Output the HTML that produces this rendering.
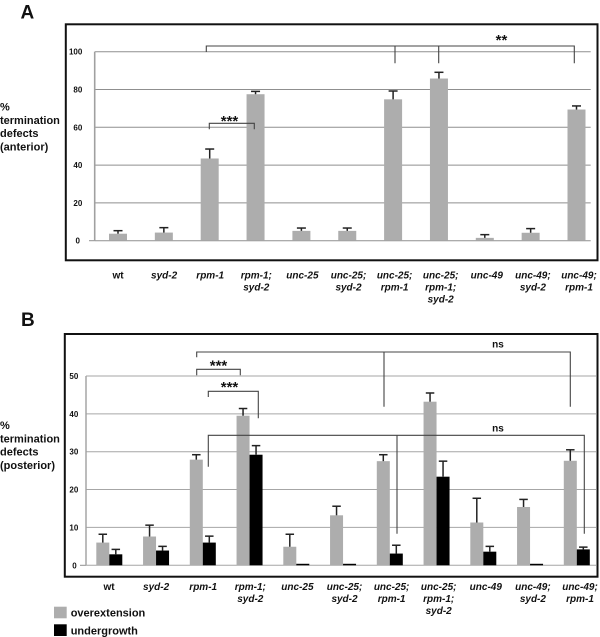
<!DOCTYPE html>
<html>
<head>
<meta charset="utf-8">
<title>Termination defects</title>
<style>
html,body{margin:0;padding:0;background:#fff;}
svg{display:block;font-family:"Liberation Sans",sans-serif;filter:blur(0.35px);}
text{fill:#111;}
</style>
</head>
<body>
<svg id="fig" width="600" height="637" viewBox="0 0 600 637" xmlns="http://www.w3.org/2000/svg"></svg>
<script>
const categories = [
  ["wt"], ["syd-2"], ["rpm-1"], ["rpm-1;", "syd-2"], ["unc-25"], ["unc-25;", "syd-2"],
  ["unc-25;", "rpm-1"], ["unc-25;", "rpm-1;", "syd-2"], ["unc-49"], ["unc-49;", "syd-2"], ["unc-49;", "rpm-1"]
];
const anteriorValues = [3.7, 4.3, 43.5, 77.5, 5.2, 5.2, 74.8, 85.8, 1.5, 4.2, 69.4];
const anteriorErrorTops = [5.3, 6.9, 48.5, 79, 6.7, 6.7, 79.2, 89.1, 3.2, 6.4, 71.3];
const anteriorTicks = [0, 20, 40, 60, 80, 100];
const overextensionValues = [6, 7.6, 27.9, 39.5, 4.9, 13.2, 27.5, 43.2, 11.3, 15.4, 27.6];
const overextensionErrorTops = [8.2, 10.6, 29.2, 41.4, 8.2, 15.6, 29.2, 45.5, 17.7, 17.4, 30.5];
const undergrowthValues = [2.9, 3.9, 6, 29.2, 0.4, 0.4, 3.1, 23.4, 3.6, 0.4, 4.2];
const undergrowthErrorTops = [4.2, 5, 7.7, 31.6, null, null, 5.3, 27.5, 5, null, 4.8];
const posteriorTicks = [0, 10, 20, 30, 40, 50];

const svg = document.getElementById('fig');
const NS = 'http://www.w3.org/2000/svg';

function make(tag, attrs, text) {
  const el = document.createElementNS(NS, tag);
  for (const k in attrs) el.setAttribute(k, attrs[k]);
  if (text !== undefined) el.textContent = text;
  svg.appendChild(el);
  return el;
}

/* axis functions */
const xA = i => 118 + 45.85 * i;
const yA = v => 240.7 - 1.89 * v;
const xB = i => 109.3 + 46.75 * i;
const yB = v => 565.3 - 3.787 * v;

function drawLine(x1, y1, x2, y2, color, width, name) {
  const el = make('line', {x1, y1, x2, y2, stroke: color, 'stroke-width': width});
  
  
  return el;
}

function drawBar(x, y0, y1, w, color, name) {
  const el = make('rect', {x: x, y: y1, width: w, height: Math.max(0, y0 - y1), fill: color});
  
  
  return el;
}

function drawError(cx, yBar, yTop, cap, name) {
  drawLine(cx, yBar, cx, yTop, '#222', 1.5, name + '-stem');
  drawLine(cx - cap / 2, yTop, cx + cap / 2, yTop, '#222', 1.5, name + '-cap');
}

function drawText(x, y, str, size, opts, name) {
  const o = opts || {};
  const el = make('text', {
    x, y,
    'font-size': size,
    'font-weight': o.weight || 'bold',
    'font-style': o.style || 'normal',
    'text-anchor': o.anchor || 'start'
  }, str);
  if (o.spacing) el.setAttribute('letter-spacing', o.spacing);
  
  
  return el;
}

function drawFrame(x, y, w, h, name) {
  const el = make('rect', {x, y, width: w, height: h, fill: 'none', stroke: '#111', 'stroke-width': 2});
  
  
}

function bracket(pts, color, name) {
  const el = make('path', {d: pts, fill: 'none', stroke: color || '#444', 'stroke-width': 1.1});
  
  
}

function drawCategoryLabels(centerFn, baseline, prefix) {
  categories.forEach((lines, i) => {
    lines.forEach((ln, j) => {
      drawText(centerFn(i), baseline + 12 * j, ln, 10, {
        anchor: 'middle',
        style: ln === 'wt' ? 'normal' : 'italic'
      }, prefix + '-category-label');
    });
  });
}

/* ---------- Panel letters ---------- */
drawText(20.5, 18.5, 'A', 19, {}, 'panel-a-label');
drawText(21, 326, 'B', 19, {}, 'panel-b-label');

/* ---------- Panel A ---------- */
anteriorTicks.forEach(t => {
  drawLine(94.7, yA(t), 590.7, yA(t), '#8f8f8f', 1, 'panel-a-gridline');
  drawText(t === 0 ? 80 : 82.3, yA(t) + 3, String(t), 8, {anchor: 'end'}, 'panel-a-tick-label');
});
drawLine(89, yA(0), 94.7, yA(0), '#8f8f8f', 1, 'panel-a-zero-tick');
drawLine(94.7, yA(100), 94.7, yA(0), '#a0a0a0', 1.6, 'panel-a-y-axis');

anteriorValues.forEach((v, i) => {
  drawBar(xA(i) - 9, yA(0), yA(v), 18, '#adadad', 'panel-a-bar');
  drawError(xA(i), yA(v), yA(anteriorErrorTops[i]), 9, 'panel-a-error');
});

bracket(`M206.3 52V46H574.3V63.3M395 46V63.3M438.7 46V63.3`, '#444', 'panel-a-bracket-wide');
bracket(`M209.3 129.3V123.3H254.3V129.3`, '#444', 'panel-a-bracket-rpm1');
drawText(229.5, 126, '***', 15, {anchor: 'middle'}, 'panel-a-significance-triple');
drawText(501.5, 45, '**', 15, {anchor: 'middle'}, 'panel-a-significance-double');

drawFrame(65.8, 24.3, 531.7, 236, 'panel-a-frame');

['%', 'termination', 'defects', '(anterior)'].forEach((s, j) => {
  drawText(0, 110.7 + 13.2 * j, s, 11, {}, 'panel-a-y-title');
});
drawCategoryLabels(i => 118 + 46.1 * i, 278.5, 'panel-a');

/* ---------- Panel B ---------- */
posteriorTicks.forEach(t => {
  drawLine(86, yB(t), 596, yB(t), '#a6a6a6', 1, 'panel-b-gridline');
  drawText(t === 0 ? 76.7 : 78.3, yB(t) + 3, String(t), 8, {anchor: 'end'}, 'panel-b-tick-label');
});
drawLine(80, yB(0), 86, yB(0), '#8f8f8f', 1, 'panel-b-zero-tick');
drawLine(86, yB(50), 86, yB(0), '#a0a0a0', 1.4, 'panel-b-y-axis');

overextensionValues.forEach((v, i) => {
  drawBar(xB(i) - 13, yB(0), yB(v), 13, '#adadad', 'panel-b-overextension-bar');
  drawError(xB(i) - 6.5, yB(v), yB(overextensionErrorTops[i]), 8.5, 'panel-b-overextension-error');
});
undergrowthValues.forEach((v, i) => {
  drawBar(xB(i), yB(0), yB(v), 13, '#000', 'panel-b-undergrowth-bar');
  if (undergrowthErrorTops[i] !== null) {
    drawError(xB(i) + 6.5, yB(v), yB(undergrowthErrorTops[i]), 8.5, 'panel-b-undergrowth-error');
  }
});

bracket(`M196.7 357.3V352H570.3V406.7M384 352V406.7`, '#444', 'panel-b-bracket-top');
bracket(`M196.7 375.3V369.3H240.3V375.3`, '#444', 'panel-b-bracket-overextension');
bracket(`M208.3 397V391.3H258.3V418.3`, '#444', 'panel-b-bracket-mixed');
bracket(`M208.3 466.7V435.3H584.3V533.7M397 435.3V533.7`, '#444', 'panel-b-bracket-undergrowth');
drawText(218.5, 370.5, '***', 15, {anchor: 'middle'}, 'panel-b-significance-a');
drawText(229.5, 392, '***', 15, {anchor: 'middle'}, 'panel-b-significance-b');
drawText(498, 347.5, 'ns', 10, {anchor: 'middle'}, 'panel-b-ns-top');
drawText(498, 431.5, 'ns', 10, {anchor: 'middle'}, 'panel-b-ns-bottom');

drawFrame(64.8, 334, 532.7, 242.7, 'panel-b-frame');

['%', 'termination', 'defects', '(posterior)'].forEach((s, j) => {
  drawText(0, 429 + 13.3 * j, s, 11, {}, 'panel-b-y-title');
});
drawCategoryLabels(i => 109 + 47.1 * i, 590, 'panel-b');

/* ---------- Legend ---------- */
drawBar(54, 618.3, 606.7, 12.7, '#adadad', 'legend-swatch-overextension');
drawText(70.7, 616.5, 'overextension', 11, {}, 'legend-label-overextension');
drawBar(54, 636, 624.3, 12.7, '#000', 'legend-swatch-undergrowth');
drawText(70.7, 634.5, 'undergrowth', 11, {}, 'legend-label-undergrowth');
</script>
</body>
</html>
